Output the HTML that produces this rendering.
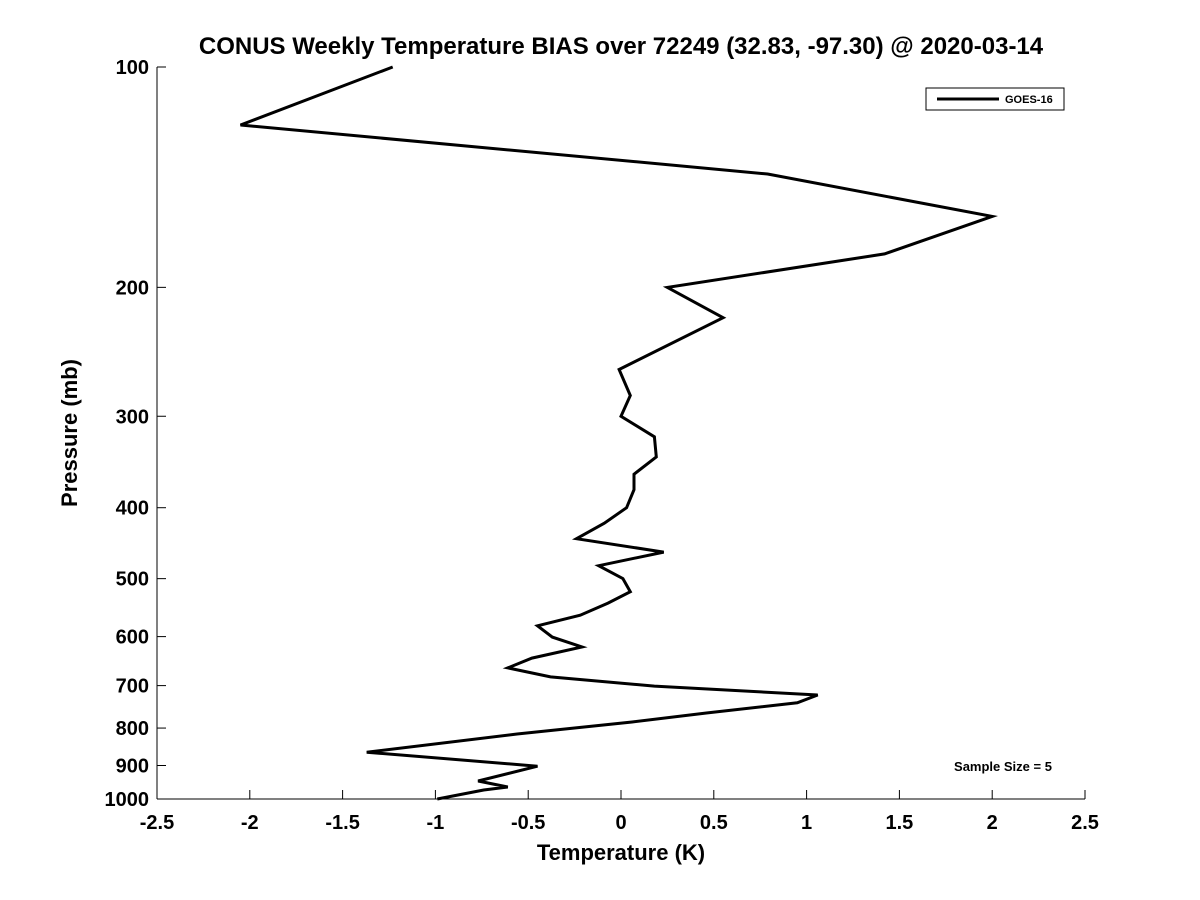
<!DOCTYPE html>
<html><head><meta charset="utf-8"><style>body{margin:0;background:#fff}svg{display:block;font-family:"Liberation Sans",sans-serif}</style></head>
<body>
<svg id="c" width="1200" height="900">
<text x="621" y="54" text-anchor="middle" font-size="24" font-weight="bold">CONUS Weekly Temperature BIAS over 72249 (32.83, -97.30) @ 2020-03-14</text>
<g id="axes"></g>
<polyline id="line" fill="none" stroke="#000" stroke-width="3" stroke-linejoin="miter"/>
<g>
<rect x="926" y="88" width="138" height="22" fill="#fff" stroke="#000" stroke-width="1"/>
<line x1="937" y1="99" x2="999" y2="99" stroke="#000" stroke-width="3"/>
<text x="1005" y="103" font-size="11" font-weight="bold">GOES-16</text>
</g>
<text x="1003" y="771" text-anchor="middle" font-size="13" font-weight="bold">Sample Size = 5</text>
<text x="621" y="860" text-anchor="middle" font-size="22" font-weight="bold">Temperature (K)</text>
<text transform="translate(77,433) rotate(-90)" text-anchor="middle" font-size="22" font-weight="bold">Pressure (mb)</text>
</svg>
<script>
const temps=[-1.23,-2.05,0.79,2.0,1.42,0.25,0.55,-0.01,0.05,0.0,0.18,0.19,0.07,0.07,0.03,-0.09,-0.24,0.23,-0.12,0.01,0.05,-0.07,-0.22,-0.45,-0.37,-0.21,-0.48,-0.61,-0.38,0.18,1.06,0.95,0.46,0.06,-0.56,-1.37,-0.45,-0.77,-0.61,-0.74,-0.99];
const pressures=[100,120,140,160,180,200,220,259,281,300,320,341,360,378,400,420,441,460,480,500,521,540,561,580,601,620,642,662,681,701,721,739,763,785,815,863,902,945,963,972,1000];
const xTicks=[-2.5,-2,-1.5,-1,-0.5,0,0.5,1,1.5,2,2.5];
const yTicks=[100,200,300,400,500,600,700,800,900,1000];
const X0=157,X1=1085,Y0=67,Y1=799;
const xs=v=>X0+(v+2.5)/5*(X1-X0);
const ys=p=>Y0+Math.log10(p/100)*(Y1-Y0);
const ns='http://www.w3.org/2000/svg';
const ax=document.getElementById('axes');
function mk(t,a){const e=document.createElementNS(ns,t);for(const k in a)e.setAttribute(k,a[k]);ax.appendChild(e);return e;}
let e=mk('line',{x1:X0,y1:Y1,x2:X1,y2:Y1,stroke:'#000','stroke-width':1});


e=mk('line',{x1:X0,y1:Y0,x2:X0,y2:Y1,stroke:'#000','stroke-width':1});


xTicks.forEach(v=>{const x=xs(v);
mk('line',{x1:x,y1:Y1,x2:x,y2:Y1-9,stroke:'#000'});
const t=mk('text',{x:x,y:Y1+30,'text-anchor':'middle','font-size':20,'font-weight':'bold'});t.textContent=String(v);

});
yTicks.forEach(p=>{const y=ys(p);
mk('line',{x1:X0,y1:y,x2:X0+9,y2:y,stroke:'#000'});
const t=mk('text',{x:X0-8,y:y+7,'text-anchor':'end','font-size':20,'font-weight':'bold'});t.textContent=String(p);

});
document.getElementById('line').setAttribute('points',temps.map((t,i)=>xs(t).toFixed(1)+','+ys(pressures[i]).toFixed(1)).join(' '));
</script>
</body></html>
